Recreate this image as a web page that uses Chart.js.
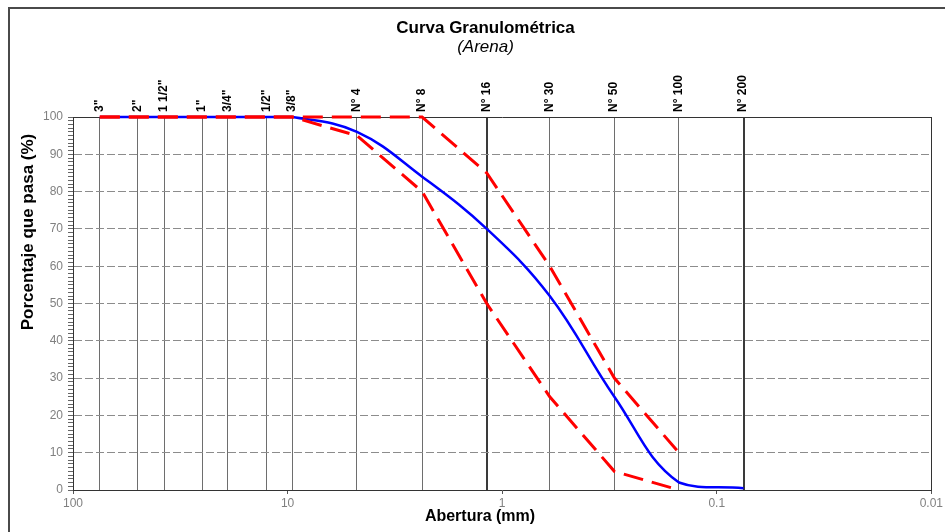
<!DOCTYPE html>
<html>
<head>
<meta charset="utf-8">
<script src="https://cdn.jsdelivr.net/npm/chart.js@4/dist/chart.umd.min.js"></script>
<style>
  html, body { margin: 0; padding: 0; background: #fff; overflow: hidden; }
  #marco { position: absolute; left: 8px; top: 7px; width: 1000px; height: 600px;
           border-left: 2px solid #4a4a4a; border-top: 2px solid #4a4a4a; }
  canvas { position: absolute; left: 0; top: 0; }
</style>
</head>
<body>
<div id="marco"></div>
<canvas id="curva" width="945" height="532"></canvas>
<script>
// tamices y aberturas (mm)
const tamices = ['3"', '2"', '1 1/2"', '1"', '3/4"', '1/2"', '3/8"', 'N° 4', 'N° 8', 'N° 16', 'N° 30', 'N° 50', 'N° 100', 'N° 200'];
const aberturas = [75, 50, 37.5, 25, 19, 12.5, 9.5, 4.75, 2.36, 1.18, 0.6, 0.3, 0.15, 0.075];

// % que pasa
const pasaMuestra = [100, 100, 100, 100, 100, 100, 100, 96, 84, 70, 52, 25, 2, 0.5];
const limiteSuperior = [100, 100, 100, 100, 100, 100, 100, 100, 100, 85, 60, 30, 10, null];
const limiteInferior = [100, 100, 100, 100, 100, 100, 100, 95, 80, 50, 25, 5, 0, null];

// marcas del eje inferior
const marcasX = [100, 10, 1, 0.1, 0.01];

const fuente = 'Arial, "Liberation Sans", sans-serif';
Chart.defaults.font.family = fuente;

const puntos = (vals) => aberturas
    .map((a, i) => ({x: a, y: vals[i]}))
    .filter(p => p.y !== null);

// titulos de los ejes (en el original no van centrados en el area del grafico)
const titulosEjes = {
    id: 'titulosEjes',
    afterDraw(chart) {
        const c = chart.ctx;
        c.save();
        c.fillStyle = '#000';
        c.textAlign = 'center';
        c.textBaseline = 'middle';
        c.font = 'bold 16px ' + fuente;
        c.fillText('Abertura (mm)', 480, 517);
        c.translate(28, 232);
        c.rotate(-Math.PI / 2);
        c.font = 'bold 17px ' + fuente;
        c.fillText('Porcentaje que pasa (%)', 0, 0);
        c.restore();
    }
};

const gruesa = (v) => v === 1.18 || v === 0.075;
const clipLinea = {left: 5, right: 5, top: 5, bottom: 0};

const ctx = document.getElementById('curva').getContext('2d');
new Chart(ctx, {
    type: 'line',
    data: {
        datasets: [{
            label: 'Límite superior',
            data: puntos(limiteSuperior),
            borderColor: '#ff0000',
            borderWidth: 3,
            borderDash: [20, 9],
            pointRadius: 0,
            tension: 0,
            xAxisID: 'x',
            yAxisID: 'y',
            clip: clipLinea
        }, {
            label: 'Límite inferior',
            data: puntos(limiteInferior),
            borderColor: '#ff0000',
            borderWidth: 3,
            borderDash: [20, 9],
            pointRadius: 0,
            tension: 0,
            xAxisID: 'x',
            yAxisID: 'y',
            clip: clipLinea
        }, {
            label: 'Muestra',
            data: puntos(pasaMuestra),
            borderColor: '#0000ff',
            borderWidth: 2.5,
            pointRadius: 0,
            tension: 0.4,
            xAxisID: 'x',
            yAxisID: 'y',
            clip: clipLinea
        }]
    },
    options: {
        responsive: false,
        animation: false,
        layout: {padding: {left: 26, right: 0, top: 0, bottom: 0}},
        plugins: {
            legend: {display: false},
            tooltip: {enabled: false},
            title: {
                display: true,
                text: 'Curva Granulométrica',
                color: '#000',
                font: {size: 17, weight: 'bold', lineHeight: 1.1},
                padding: {top: 19, bottom: 0}
            },
            subtitle: {
                display: true,
                text: '(Arena)',
                color: '#000',
                font: {size: 17, style: 'italic', lineHeight: 1.1},
                padding: {top: 0, bottom: 0}
            }
        },
        scales: {
            x: {
                type: 'logarithmic',
                position: 'bottom',
                reverse: true,
                min: 0.01,
                max: 100,
                afterBuildTicks: (s) => { s.ticks = marcasX.map(v => ({value: v})); },
                afterFit: (s) => { s.height = 42; },
                ticks: {
                    callback: (v) => String(v),
                    color: '#808080',
                    font: {size: 12},
                    padding: 2,
                    maxRotation: 0,
                    autoSkip: false
                },
                grid: {drawOnChartArea: false, tickLength: 4, tickColor: '#555'},
                border: {color: '#333', width: 1}
            },
            xTamiz: {
                type: 'logarithmic',
                position: 'top',
                reverse: true,
                min: 0.01,
                max: 100,
                afterBuildTicks: (s) => { s.ticks = aberturas.map(v => ({value: v})); },
                afterFit: (s) => { s.height = 60.6; },
                ticks: {
                    callback: (v, i) => tamices[i],
                    color: '#000',
                    font: {size: 12, weight: 'bold'},
                    padding: 5,
                    labelOffset: 14,
                    minRotation: 90,
                    maxRotation: 90,
                    autoSkip: false
                },
                grid: {
                    drawTicks: false,
                    color: (c) => gruesa(c.tick && c.tick.value) ? '#3a3a3a' : '#6e6e6e',
                    lineWidth: (c) => gruesa(c.tick && c.tick.value) ? 2 : 1
                },
                border: {color: '#333', width: 1}
            },
            y: {
                type: 'linear',
                position: 'left',
                min: 0,
                max: 100,
                afterFit: (s) => { s.width = 47; },
                ticks: {
                    stepSize: 1,
                    maxTicksLimit: 101,
                    autoSkip: false,
                    callback: (v) => v % 10 === 0 ? String(v) : '',
                    color: '#808080',
                    font: {size: 12},
                    padding: 5
                },
                grid: {
                    tickLength: 5,
                    tickColor: '#666',
                    color: (c) => {
                        const v = c.tick ? c.tick.value : 0;
                        return (v % 10 === 0 && v > 0 && v < 100) ? '#8c8c8c' : 'rgba(0,0,0,0)';
                    }
                },
                border: {color: '#333', width: 1, dash: [8, 3]}
            },
            yDer: {
                type: 'linear',
                position: 'right',
                afterFit: (s) => { s.width = 12; },
                ticks: {display: false},
                grid: {display: false},
                border: {color: '#333', width: 1}
            }
        }
    },
    plugins: [titulosEjes]
});
</script>
</body>
</html>
